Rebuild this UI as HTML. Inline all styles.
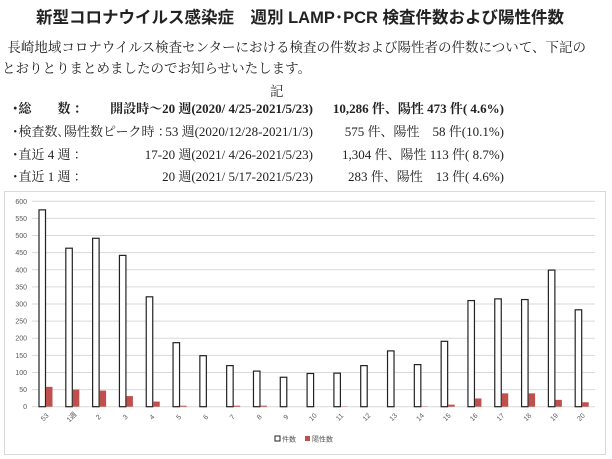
<!DOCTYPE html>
<html><head><meta charset="utf-8"><style>
body{margin:0;width:612px;height:459px;background:#fff;position:relative;overflow:hidden;font-family:"Liberation Serif","Noto Serif CJK SC",serif;color:#222}
.a{position:absolute;white-space:nowrap}
.t{font-family:"Liberation Sans","Noto Sans CJK JP",sans-serif;font-weight:bold;font-size:16.5px;left:36px;top:4px}
.p{font-size:13.5px}
.r{font-size:13px;top:0}
.m{right:299px}
.e{right:108px}
</style></head><body>
<div class="a t">新型コロナウイルス感染症　週別 LAMP･PCR 検査件数および陽性件数</div>
<div class="a p" style="left:4px;top:36px">&nbsp;長崎地域コロナウイルス検査センターにおける検査の件数および陽性者の件数について、下記の</div>
<div class="a p" style="left:2px;top:57px">とおりとりまとめましたのでお知らせいたします。</div>
<div class="a p" style="left:270px;top:80px">記</div>
<div>
<div class="a r" style="left:12px;top:98px;font-weight:bold">･総　　数 ：</div>
<div class="a r m" style="top:98px;font-weight:bold">開設時～20 週(2020/ 4/25-2021/5/23)</div>
<div class="a r e" style="top:98px;font-weight:bold">10,286 件、陽性 473 件( 4.6%)</div></div>
<div>
<div class="a r" style="left:12px;top:121px">･検査数､陽性数ピーク時 ：</div>
<div class="a r m" style="top:121px">53 週(2020/12/28-2021/1/3)</div>
<div class="a r e" style="top:121px">575 件、陽性　58 件(10.1%)</div></div>
<div>
<div class="a r" style="left:12px;top:144px">･直近 4 週 ：</div>
<div class="a r m" style="top:144px">17-20 週(2021/ 4/26-2021/5/23)</div>
<div class="a r e" style="top:144px">1,304 件、陽性 113 件( 8.7%)</div></div>
<div>
<div class="a r" style="left:12px;top:166px">･直近 1 週 ：</div>
<div class="a r m" style="top:166px">20 週(2021/ 5/17-2021/5/23)</div>
<div class="a r e" style="top:166px">283 件、陽性　13 件( 4.6%)</div></div>
<svg class="a" style="left:0;top:0" width="612" height="459">
<rect x="4.5" y="191.5" width="601" height="263" fill="#fff" stroke="#d9d9d9"/>
<g id="g" font-family="Liberation Sans, Noto Sans CJK JP, sans-serif" font-size="7" fill="#595959"></g>
</svg>
<script>
const categories=["53","1週","2","3","4","5","6","7","8","9","10","11","12","13","14","15","16","17","18","19","20"];
const tests=[575,463,492,442,321,187,149,120,104,86,97,98,120,163,123,191,310,315,313,399,283];
const positives=[58,50,47,31,15,3,0,3,3,0,0,1,0,0,1,6,24,39,39,20,13];
const yTicks=[0,50,100,150,200,250,300,350,400,450,500,550,600];
const NS="http://www.w3.org/2000/svg";
const g=document.getElementById('g');
const x0=32,x1=595,y0=406.7,y1=201.3,ymax=600;
const cw=(x1-x0)/categories.length;
const Y=v=>y0-(v/ymax)*(y0-y1);
const X=i=>x0+i*cw;
function mk(t,a){const e=document.createElementNS(NS,t);for(const k in a)e.setAttribute(k,a[k]);g.appendChild(e);return e;}
yTicks.forEach(v=>{
const l=mk('line',{x1:x0,x2:x1,y1:Y(v),y2:Y(v),stroke:'#d9d9d9','stroke-width':1});


const t=mk('text',{x:27,y:Y(v)+2.5,'text-anchor':'end'});t.textContent=v;


});
categories.forEach((c,i)=>{
const bx=X(i)+7;
const b=mk('rect',{x:bx,y:Y(tests[i]),width:6.5,height:y0-Y(tests[i]),fill:'#fff',stroke:'#222','stroke-width':1.2});


const r=mk('rect',{x:bx+7,y:Y(positives[i]),width:6.5,height:y0-Y(positives[i]),fill:'#c0504d'});


const cx=X(i)+cw/2+1,cy=y0+12;
const t=mk('text',{x:cx,y:cy,'text-anchor':'middle',transform:`rotate(-45 ${cx} ${cy})`});t.textContent=c;


});
const lg1=mk('rect',{x:275,y:436,width:5,height:5,fill:'#fff',stroke:'#222'});


const lt1=mk('text',{x:282,y:441.5});lt1.textContent='件数';


const lg2=mk('rect',{x:305,y:436,width:5,height:5,fill:'#c0504d'});


const lt2=mk('text',{x:312,y:441.5});lt2.textContent='陽性数';


</script>
</body></html>
